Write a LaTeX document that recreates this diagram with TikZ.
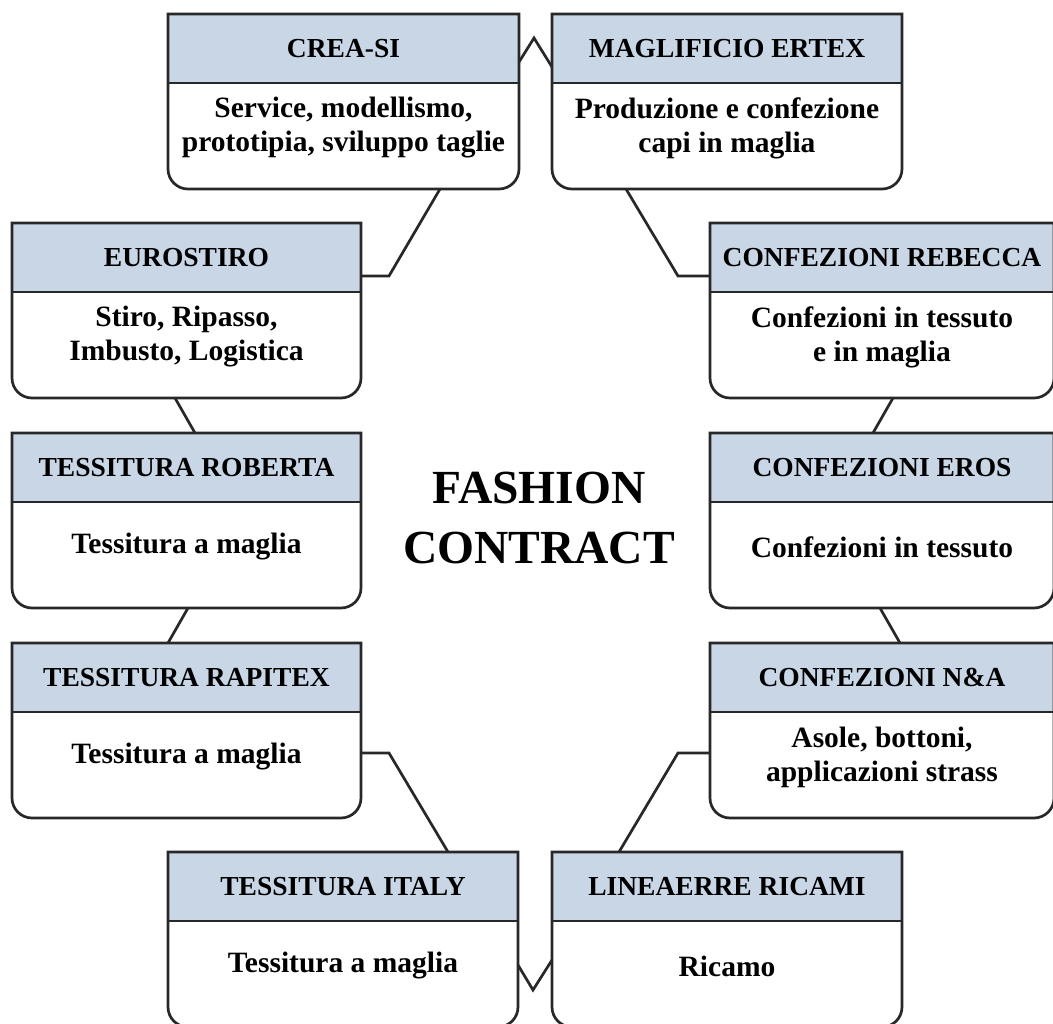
\documentclass[tikz,border=0pt]{standalone}
\usepackage{fontspec}
\setmainfont{Liberation Serif}
\usetikzlibrary{calc}
\definecolor{hdrblue}{RGB}{200,214,230}
\definecolor{lineg}{RGB}{40,40,40}
\tikzset{
  boxshape/.style={inner sep=0pt, outer sep=0pt, minimum height=175pt, draw=none},
  titletext/.style={font=\fontsize{27.5}{32}\selectfont\bfseries, inner sep=0pt, text=black},
  bodytext/.style={font=\fontsize{29.5}{34}\selectfont\bfseries, inner sep=0pt, align=center},
  conn/.style={draw=lineg, line width=2.7pt, line join=miter},
  outline/.style={draw=lineg, line width=2.7pt},
  centertext/.style={font=\fontsize{47.5}{60}\selectfont\bfseries, align=center, inner sep=0pt},
}
\newcommand\companybox[6]{%
  \node[boxshape, minimum width=#4pt, anchor=north west] (#1) at (#2,#3) {};
  \fill[hdrblue] (#1.north west) rectangle ([yshift=-69pt]#1.north east);
  \draw[outline] (#1.north west) -- ([yshift=20pt]#1.south west)
     arc[start angle=180,end angle=270,radius=20pt] -- ([xshift=-20pt]#1.south east)
     arc[start angle=270,end angle=360,radius=20pt] -- (#1.north east) -- cycle;
  \draw[outline] ([yshift=-69pt]#1.north west) -- ([yshift=-69pt]#1.north east);
  \node[titletext] (#1-t) at ([yshift=-34.5pt]#1.north) {#5};
  \node[bodytext] (#1-b) at ([yshift=-114pt]#1.north) {#6};
}
\begin{document}
\begin{tikzpicture}[x=1pt,y=-1pt]
\useasboundingbox (0,0) rectangle (1053,1024);
\clip (0,0) rectangle (1053,1024);
\fill[white] (0,0) rectangle (1053,1024);

\companybox{crea}{168}{14}{351}{CREA-SI}{Service, modellismo,\\prototipia, sviluppo taglie}
\companybox{magl}{552}{14}{350}{MAGLIFICIO ERTEX}{Produzione e confezione\\capi in maglia}
\companybox{euro}{12}{223}{349}{EUROSTIRO}{Stiro, Ripasso,\\Imbusto, Logistica}
\companybox{robe}{12}{433}{349}{TESSITURA ROBERTA}{Tessitura a maglia}
\companybox{rapi}{12}{643}{349}{TESSITURA RAPITEX}{Tessitura a maglia}
\companybox{rebe}{710}{223}{344}{CONFEZIONI REBECCA}{Confezioni in tessuto\\e in maglia}
\companybox{eros}{710}{433}{344}{CONFEZIONI EROS}{Confezioni in tessuto}
\companybox{nand}{710}{643}{344}{CONFEZIONI N\&A}{Asole, bottoni,\\applicazioni strass}
\companybox{ital}{168}{852}{350}{TESSITURA ITALY}{Tessitura a maglia}
\companybox{line}{552}{852}{350}{LINEAERRE RICAMI}{Ricamo}

\node[centertext] (center) at (539,518) {FASHION\\CONTRACT};

\draw[conn] ($(crea.north east)+(0,48)$) -- ($(crea.north east)+(15,24)$) -- ($(magl.north west)+(0,53)$);
\draw[conn] ($(crea.south west)+(272,0)$) -- ($(euro.north east)+(28,53)$) -- ($(euro.north east)+(0,53)$);
\draw[conn] ($(magl.south west)+(74,0)$) -- ($(rebe.north west)+(-32,53)$) -- ($(rebe.north west)+(0,53)$);
\draw[conn] ($(euro.south west)+(163,0)$) -- ($(robe.north west)+(183,0)$);
\draw[conn] ($(robe.south west)+(176,0)$) -- ($(rapi.north west)+(156,0)$);
\draw[conn] ($(rapi.north east)+(0,110)$) -- ($(rapi.north east)+(28,110)$) -- ($(ital.north west)+(280,0)$);
\draw[conn] ($(rebe.south west)+(183,0)$) -- ($(eros.north west)+(163,0)$);
\draw[conn] ($(eros.south west)+(170,0)$) -- ($(nand.north west)+(190,0)$);
\draw[conn] ($(nand.north west)+(0,110)$) -- ($(nand.north west)+(-32,110)$) -- ($(line.north west)+(67,0)$);
\draw[conn] ($(ital.north east)+(0,113)$) -- ($(ital.north east)+(15,138)$) -- ($(line.north west)+(0,108)$);
\end{tikzpicture}
\end{document}
